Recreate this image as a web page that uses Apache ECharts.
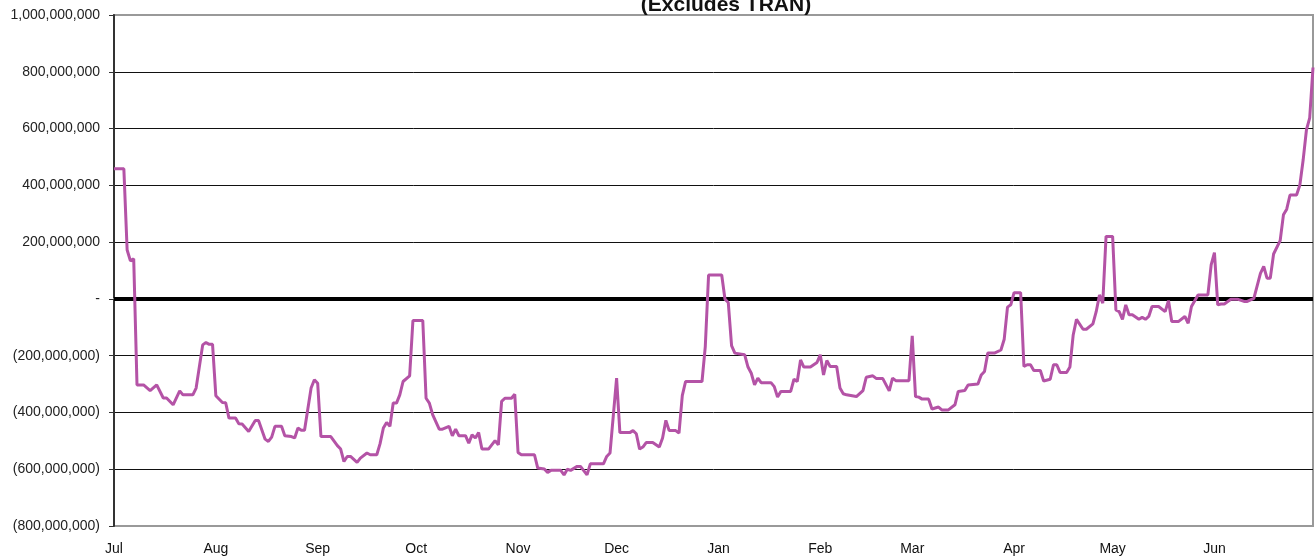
<!DOCTYPE html>
<html lang="en">
  <head>
    <meta charset="utf-8" />
    <title>Cash balance (Excludes TRAN)</title>
    <script src="https://cdn.jsdelivr.net/npm/echarts@6.0.0/dist/echarts.min.js"></script>
  </head>
  <style>
    * {
      margin: 0;
      padding: 0;
    }

    body {
      width: 1315px;
      height: 558px;
      background: #fff;
    }

    #main {
      width: 1315px;
      height: 558px;
    }
  </style>
  <body>
    <div id="main"></div>
    <script>
      // days since Jul 1
      const dayOffsets = [
        0, 3, 4, 5, 6, 7, 9, 11, 13, 15, 16, 18, 20, 21, 24, 25, 27, 28, 29, 30,
        31, 33, 34, 35, 37, 38, 39, 41, 43, 44, 46, 47, 48, 49, 51, 52, 54, 55, 56, 57, 58, 60, 61,
        62, 63, 66, 68, 69, 70, 71, 72, 74, 75, 77, 78, 80, 81, 82, 83, 84, 85, 86, 87, 88, 90, 91,
        94, 95, 96, 97, 99, 100, 102, 103, 104, 105, 107, 108, 109, 110, 111, 112, 114, 116, 117, 118, 119, 121, 122,
        123, 124, 128, 129, 131, 132, 133, 136, 137, 138, 139, 141, 142, 144, 145, 149, 150, 151,
        153, 154, 157, 158, 159, 160, 161, 162, 164, 166, 167, 168, 169, 171, 172, 173, 174, 179, 180, 181,
        185, 186, 187, 188, 189, 192, 193, 194, 195, 196, 197, 200, 201, 202, 203, 206, 207, 208, 209, 210, 212, 214,
        215, 216, 217, 218, 220, 221, 222, 223, 226, 228, 229, 231, 232, 234, 236, 237, 238, 242,
        243, 244, 245, 246, 248, 249, 251, 252, 254, 256, 257, 259, 260, 263, 264, 265, 266, 268, 270, 271, 272, 273,
        274, 276, 277, 278, 279, 280, 282, 283, 285, 286, 287, 288, 290, 291, 292, 293, 295, 296, 298, 299, 300, 301, 302,
        304, 305, 306, 307, 308, 309, 310, 312, 313, 314, 315, 316, 318, 320, 321, 322, 324, 326, 327, 328, 330, 333, 334,
        335, 336, 337, 338, 340, 342, 344, 345, 347, 349, 350, 351, 352, 353, 355, 356, 357, 358, 360, 361, 362, 363, 364, 365
      ];

      // balance in millions
      const balanceMillions = [
        458, 458, 172, 134, 141, -303, -303, -323, -303, -349, -349, -373, -324, -338, -338, -314, -162, -154, -160, -160,
        -341, -365, -366, -420, -420, -440, -441, -467, -428, -428, -494, -502, -487, -449, -449, -482, -485, -490, -455, -463, -463, -314, -285,
        -297, -485, -485, -517, -529, -573, -555, -555, -576, -561, -543, -549, -549, -510, -455, -435, -449, -367, -367, -338, -291, -271, -76,
        -76, -350, -367, -408, -459, -459, -449, -482, -459, -482, -482, -508, -479, -490, -471, -529, -529, -499, -514, -361, -350, -350, -336,
        -541, -549, -549, -596, -599, -611, -604, -604, -620, -600, -604, -590, -590, -620, -581, -581, -555, -543,
        -279, -471, -471, -464, -475, -529, -522, -506, -506, -522, -490, -428, -464, -464, -473, -341, -291, -291, -168, 84,
        84, -1, -13, -165, -191, -197, -240, -262, -303, -279, -295, -295, -309, -346, -326, -326, -283, -291, -215, -240, -240, -224,
        -197, -268, -217, -238, -238, -314, -334, -338, -344, -323, -276, -271, -280, -280, -324, -279, -288, -288,
        -130, -344, -346, -353, -353, -388, -381, -391, -391, -373, -326, -323, -303, -300, -268, -256, -191, -191, -180, -142, -29, -21,
        22, 22, -238, -232, -232, -252, -252, -289, -283, -232, -232, -259, -259, -240, -127, -72, -107, -107, -88, -45, 14, -15, 220,
        220, -39, -45, -72, -21, -56, -56, -72, -65, -72, -62, -27, -27, -45, -6, -80, -80, -62, -86, -27, 14, 14, 120,
        163, -21, -18, -18, -1, -1, -9, -9, 2, 90, 114, 73, 73, 158, 205, 296, 316, 366, 366, 401, 489, 595, 638, 815
      ];

      const monthNames = ["Jan", "Feb", "Mar", "Apr", "May", "Jun", "Jul", "Aug", "Sep", "Oct", "Nov", "Dec"];

      const startDate = new Date(2010, 6, 1).getTime();
      const endDate = new Date(2011, 6, 1).getTime();

      function dayToTime(d) {
        return new Date(2010, 6, 1 + d).getTime();
      }

      function formatBalance(v) {
        if (v === 0) return "-";
        const s = Math.abs(v * 1000000).toLocaleString("en-US");
        return v < 0 ? "(" + s + ")" : s;
      }

      const seriesData = dayOffsets.map((d, i) => [dayToTime(d), balanceMillions[i]]);

      const chart = echarts.init(document.getElementById("main"));

      const option = {
        backgroundColor: "#fff",
        animation: false,
        title: {
          text: "(Excludes TRAN)",
          left: 721,
          top: -10,
          textAlign: "center",
          textStyle: {
            fontFamily: "Liberation Sans",
            fontSize: 21,
            fontWeight: "bold",
            color: "#111",
          },
        },
        grid: {
          left: 114,
          right: 2,
          top: 15,
          bottom: 32,
          outerBoundsMode: "none",
          show: true,
          borderColor: "#999",
          borderWidth: 2,
        },
        xAxis: {
          type: "time",
          min: startDate,
          max: endDate,
          splitNumber: 12,
          minInterval: 28 * 86400000,
          maxInterval: 31 * 86400000,
          axisLine: { lineStyle: { color: "#999", width: 2 } },
          axisTick: { show: false },
          splitLine: { show: false },
          axisLabel: {
            showMaxLabel: false,
            margin: 16,
            fontFamily: "Liberation Sans",
            fontSize: 14,
            color: "#111",
            formatter: function (value) {
              if (value >= endDate) return "";
              return monthNames[new Date(value).getMonth()];
            },
          },
        },
        yAxis: {
          type: "value",
          min: -800,
          max: 1000,
          interval: 200,
          axisLine: { show: true, lineStyle: { color: "#333", width: 2 } },
          axisTick: { show: true, length: 5, lineStyle: { color: "#333" } },
          splitLine: {
            lineStyle: {
              color: ["#999", "#111", "#111", "#111", "#111", "#111", "#111", "#111", "#111", "#999"],
              width: 1,
            },
          },
          axisLabel: {
            margin: 14,
            fontFamily: "Liberation Sans",
            fontSize: 14,
            color: "#222",
            formatter: formatBalance,
          },
        },
        series: [
          {
            type: "line",
            data: seriesData,
            showSymbol: false,
            symbol: "none",
            lineStyle: { color: "#b453a6", width: 3 },
            markLine: {
              silent: true,
              symbol: "none",
              label: { show: false },
              lineStyle: { color: "#000", width: 4, type: "solid" },
              data: [{ yAxis: 0 }],
              z: 1,
            },
            z: 3,
          },
        ],
      };

      chart.setOption(option);
    </script>
  </body>
</html>
